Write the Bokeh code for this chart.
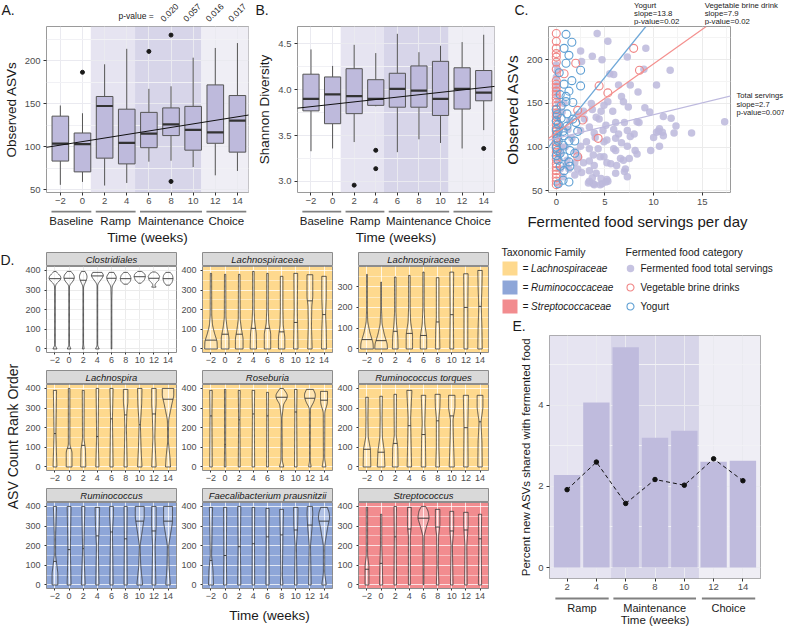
import numpy as np
from bokeh.plotting import figure
from bokeh.models import (Range1d, FixedTicker, BoxAnnotation, Slope,
                          ColumnDataSource, Spacer, NumeralTickFormatter)
from bokeh.layouts import row, column
from bokeh.transform import dodge
from bokeh.embed import file_html
from bokeh.resources import INLINE
from bokeh.core.properties import value

FONT = "Liberation Sans"
TXT = "#1A1A1A"
TICKC = "#4D4D4D"
BOX = "#BEBADC"

# ---------------- data: panels A / B ----------------
weeks = [-2, 0, 2, 4, 6, 8, 10, 12, 14]
week_labels = ["\u22122", "0", "2", "4", "6", "8", "10", "12", "14"]
phase_start = [0.75, 4.75, 10.75]
phase_end = [4.75, 10.75, 16.0]
phase_colors = ["#E6E4F1", "#D7D5E9", "#EFEEF5"]
group_names = ["Baseline", "Ramp", "Maintenance", "Choice"]
group_start = [-2.8, 1.2, 5.2, 11.2]
group_end = [0.8, 4.8, 10.8, 14.8]

asv_lo = [55.6, 59.0, 54.8, 57.8, 82.6, 83.7, 76.3, 66.7, 71.8]
asv_q1 = [83.3, 70.7, 86.7, 80.0, 98.9, 113.0, 96.0, 104.0, 93.7]
asv_med = [103.7, 103.0, 147.4, 104.4, 115.2, 126.0, 119.6, 116.7, 130.4]
asv_q3 = [135.6, 116.0, 158.5, 143.7, 140.0, 145.2, 147.0, 172.0, 159.6]
asv_hi = [148.0, 139.0, 196.0, 214.0, 167.4, 170.4, 203.7, 215.0, 220.7]
asv_out_week = [0, 6, 8, 8]
asv_out_val = [186.7, 211.0, 230.0, 59.6]
asv_fit_intercept = 106.0
asv_fit_slope = 2.06
pvalue_weeks = [8, 10, 12, 14]
pvalue_text = ["0.020", "0.057", "0.016", "0.017"]

sh_lo = [3.33, 3.36, 3.43, 3.82, 3.32, 3.46, 3.42, 3.36, 3.56]
sh_q1 = [3.77, 3.63, 3.74, 3.83, 3.81, 3.81, 3.72, 3.79, 3.88]
sh_med = [3.90, 3.95, 3.93, 3.90, 4.01, 3.99, 3.90, 4.01, 3.97]
sh_q3 = [4.17, 4.14, 4.23, 4.11, 4.18, 4.26, 4.31, 4.24, 4.21]
sh_hi = [4.44, 4.26, 4.49, 4.40, 4.61, 4.41, 4.48, 4.52, 4.60]
sh_out_week = [2, 4, 4, 14]
sh_out_val = [2.96, 3.34, 3.14, 3.36]
sh_fit_intercept = 3.842
sh_fit_slope = 0.013

# ---------------- data: panel C ----------------
total_x = [4.2, 5.3, 2.5, 3.7, 2.6, 4.7, 9.2, 7.3, 5.5, 6.4, 7.6, 10.3, 11.7, 8.4, 5.9, 9.0,
           5.3, 6.9, 3.6, 4.9, 2.8, 3.7, 2.2, 2.9, 4.1, 4.6, 5.8, 6.7, 7.4, 9.1, 9.6, 11.0,
           11.8, 8.3, 7.0, 6.1, 5.1, 4.4, 3.4, 2.5, 3.9, 4.8, 5.9, 6.4, 7.3, 8.0, 8.5, 7.6,
           6.1, 5.2, 4.0, 3.1, 4.9, 6.7, 7.3, 5.9, 4.3, 3.4, 2.5, 3.8, 4.9, 6.1, 6.6, 7.5,
           8.1, 10.0, 11.0, 12.3, 10.6, 10.5, 10.9, 17.3, 13.9, 12.1, 10.3, 10.6, 8.3, 9.7,
           4.5, 5.2, 5.6, 6.2, 6.9, 3.9, 3.4, 2.8, 2.3, 2.6, 1.9, 2.2, 4.1, 3.4, 4.6, 6.1,
           7.1, 3.4, 3.8, 5.2, 5.1, 4.7, 4.5, 3.7, 1.9, 1.3, 1.0, 0.7, 0.4, 0.2, 0.4, 0.5,
           0.2, 0.3, 0.4, 0.1, 0.0, 0.2, 0.1, 0.0, 0.1, 0.0, 0.1, 0.0, 0.2, 5.3, 3.9, 3.3,
           7.0, 0.6, 1.2, 1.6, 0.9, 1.4, 2.0, 0.8, 1.1, 7.3]
total_y = [230, 221, 210, 204, 198, 200, 213, 203, 184, 171, 171, 171, 188, 163, 183, 189,
           152, 152, 150, 148, 141, 143, 137, 132, 134, 141, 141, 158, 146, 145, 140, 135,
           133, 129, 128, 128, 125, 132, 123, 119, 116, 119, 120, 115, 119, 115, 128, 112,
           110, 108, 111, 106, 106, 105, 101, 98, 98, 98, 101, 91, 89, 96, 87, 87,
           96, 111, 113, 124, 121, 118, 117, 129, 116, 116, 117, 101, 92, 96,
           89, 82, 81, 79, 85, 79, 73, 82, 88, 71, 82, 75, 70, 84, 64, 70,
           75, 61, 58, 63, 60, 58, 57, 65, 68, 75, 79, 66, 75, 86, 93, 100,
           111, 118, 125, 133, 140, 151, 158, 165, 172, 180, 187, 194, 58, 61, 57, 59,
           72, 140, 120, 110, 100, 130, 95, 150, 85, 66]
brine_x = [0.0] * 37 + [0.8, 2.2, 2.7, 4.3, 4.4, 5.3, 7.95, 8.55, 2.2, 2.0]
brine_y = [230, 221, 213, 207, 203, 197, 189, 176, 172, 168, 164, 160, 156, 151, 147, 143,
           139, 135, 130, 126, 122, 118, 114, 110, 106, 102, 98, 94, 90, 86, 81, 77, 73,
           69, 65, 61, 57, 184, 142, 131, 110, 170, 162, 213, 188, 89, 196]
yog_x = [1.0, 1.6, 0.8, 1.3, 1.0, 2.5, 1.6, 0.8, 2.5, 1.3, 1.0, 1.0, 0.5, 1.7, 0.0, 1.1,
         0.5, 1.7, 0.2, 1.1, 0.7, 2.2, 0.8, 0.2, 1.3, 0.7, 1.4, 0.4, 0.8, 1.9, 0.2, 1.3,
         0.4, 1.4, 0.8, 0.7, 1.3, 0.2, 0.0, 0.1, 0.0, 0.1, 0.0, 0.1, 0.0, 0.1, 1.9, 2.0,
         0.4, 0.3]
yog_y = [229, 220, 213, 205, 196, 188, 176, 172, 170, 164, 158, 152, 147, 151, 143, 138,
         133, 132, 126, 124, 118, 118, 113, 107, 107, 102, 96, 93, 89, 93, 85, 83,
         78, 78, 73, 62, 60, 58, 120, 115, 100, 96, 90, 137, 130, 110, 107, 128,
         160, 185]
fit_names = ["Yogurt", "Vegetable brine drink", "Total servings"]
fit_slopes = [13.8, 7.9, 2.7]
fit_intercepts = [111.0, 116.3, 110.0]
fit_pvalues = ["0.02", "0.02", "0.007"]
fit_colors = ["#6FA8D8", "#F4908E", "#BDB9DE"]
fit_label_x = [8.2, 15.3]
fit_label_y = 159

# ---------------- data: panel D (violins) ----------------
facet_names = ["Clostridiales", "Lachnospiraceae", "Lachnospiraceae",
               "Lachnospira", "Roseburia", "Ruminococcus torques",
               "Ruminococcus", "Faecalibacterium prausnitzii", "Streptococcus"]
facet_family = ["", "Lachnospiraceae", "Lachnospiraceae", "Lachnospiraceae",
                "Lachnospiraceae", "Lachnospiraceae", "Ruminococcaceae",
                "Ruminococcaceae", "Streptococcaceae"]
family_names = ["Lachnospiraceae", "Ruminococcaceae", "Streptococcaceae"]
family_colors = ["#FED98E", "#8EA6D8", "#F28C8F"]
facet_ymax = [420, 420, 397, 420, 420, 420, 420, 420, 420]

violin_knots = [
    [  # Clostridiales
        [[0, .4], [12, .05], [320, .05], [335, .25], [350, .85], [362, 1], [375, .8], [390, .25], [395, .1]],
        [[0, .35], [12, .05], [325, .05], [340, .5], [355, .8], [370, .85], [385, .6], [395, .2]],
        [[0, .15], [20, .05], [320, .05], [340, .35], [360, .6], [375, .6], [390, .4], [395, .2]],
        [[0, .35], [12, .05], [330, .05], [350, .5], [370, .95], [382, 1], [390, .6]],
        [[0, .05], [250, .05], [320, .1], [340, .5], [360, .8], [375, .7], [390, .3]],
        [[330, .3], [345, .75], [360, .85], [375, .7], [390, .3]],
        [[335, .2], [350, .7], [368, .9], [382, .8], [395, .3]],
        [[315, .35], [325, .15], [335, .3], [350, .75], [370, .9], [385, .6], [392, .2]],
        [[325, .3], [340, .65], [358, .8], [375, .7], [390, .35]],
    ],
    [  # Lachnospiraceae
        [[0, 1], [40, .95], [80, .55], [120, .25], [170, .12], [385, .1]],
        [[0, .6], [60, .6], [110, .3], [160, .12], [380, .1]],
        [[0, .6], [55, .6], [100, .35], [150, .15], [380, .12]],
        [[0, .5], [80, .45], [140, .2], [200, .12], [395, .12]],
        [[0, .5], [80, .5], [130, .2], [200, .12], [385, .12]],
        [[0, .5], [60, .5], [120, .25], [200, .2], [370, .2]],
        [[0, .35], [100, .3], [200, .25], [385, .3]],
        [[0, .35], [120, .25], [220, .3], [260, .45], [378, .45]],
        [[0, .4], [100, .35], [175, .25], [260, .35], [370, .35]],
    ],
    [  # Lachnospiraceae (second)
        [[0, 1], [30, .95], [80, .45], [130, .12], [200, .05], [359, .05]],
        [[0, 1], [25, .95], [70, .5], [120, .15], [200, .05], [322, .05]],
        [[0, .45], [60, .4], [120, .2], [180, .1], [346, .12]],
        [[0, .5], [70, .5], [130, .2], [200, .12], [354, .12]],
        [[0, .5], [60, .5], [120, .2], [200, .1], [370, .1]],
        [[0, .35], [100, .3], [150, .2], [250, .2], [343, .2]],
        [[0, .3], [170, .25], [370, .3]],
        [[0, .3], [200, .3], [362, .35]],
        [[0, .35], [100, .3], [200, .2], [300, .3], [378, .35]],
    ],
    [  # Lachnospira
        [[0, .3], [170, .15], [390, .25]],
        [[0, .45], [80, .45], [110, .12], [200, .12], [400, .12]],
        [[0, .4], [90, .35], [140, .12], [390, .15]],
        [[0, .25], [155, .12], [400, .2]],
        [[0, .25], [245, .15], [400, .25]],
        [[0, .25], [200, .12], [280, .2], [330, .35], [395, .35]],
        [[0, .35], [100, .2], [215, .1], [320, .3], [400, .35]],
        [[0, .35], [150, .15], [270, .25], [320, .35], [400, .35]],
        [[0, .4], [50, .3], [130, .05], [240, .1], [320, .6], [360, .9], [400, .9]],
    ],
    [  # Roseburia
        [[0, .2], [260, .15], [390, .2]],
        [[0, .12], [115, .08], [395, .1]],
        [[0, .15], [240, .1], [390, .15]],
        [[0, .2], [270, .15], [390, .2]],
        [[0, .15], [260, .12], [380, .15]],
        [[0, .35], [30, .1], [250, .05], [320, .3], [345, .8], [365, .95], [385, .6], [400, .2]],
        [[0, .2], [280, .15], [395, .2]],
        [[0, .2], [30, .05], [300, .08], [330, .6], [355, .85], [375, .85], [395, .5]],
        [[0, .3], [40, .1], [280, .12], [320, .5], [340, .55], [385, .55]],
    ],
    [  # Ruminococcus torques
        [[0, .6], [90, .55], [150, .2], [250, .15], [355, .2]],
        [[0, .6], [80, .5], [150, .2], [250, .15], [360, .2]],
        [[0, .45], [100, .4], [160, .15], [370, .2]],
        [[0, .35], [150, .25], [250, .2], [390, .4]],
        [[0, .35], [150, .3], [220, .2], [365, .35]],
        [[0, .3], [100, .2], [250, .2], [300, .35], [370, .4]],
        [[0, .4], [150, .25], [240, .2], [300, .5], [365, .5]],
        [[0, .35], [200, .3], [365, .4]],
        [[0, .35], [130, .3], [230, .15], [300, .45], [365, .45]],
    ],
    [  # Ruminococcus
        [[0, .45], [60, .45], [150, .1], [250, .1], [400, .25]],
        [[0, .3], [180, .2], [400, .3]],
        [[0, .3], [185, .1], [400, .25]],
        [[0, .25], [200, .15], [300, .3], [395, .35]],
        [[0, .25], [150, .2], [270, .15], [350, .3], [400, .3]],
        [[0, .25], [235, .2], [400, .25]],
        [[0, .45], [100, .15], [200, .05], [300, .5], [340, .7], [400, .7]],
        [[0, .3], [200, .2], [300, .35], [400, .35]],
        [[0, .35], [100, .15], [200, .1], [320, .7], [400, .7]],
    ],
    [  # Faecalibacterium prausnitzii
        [[0, .4], [80, .3], [150, .1], [395, .25]],
        [[0, .25], [150, .2], [395, .25]],
        [[0, .25], [195, .18], [400, .25]],
        [[0, .2], [210, .18], [395, .2]],
        [[0, .25], [245, .2], [390, .25]],
        [[0, .2], [50, .12], [250, .2], [385, .3]],
        [[0, .2], [200, .1], [300, .3], [395, .35]],
        [[0, .2], [200, .1], [300, .35], [360, .45], [400, .4]],
        [[0, .35], [60, .1], [200, .1], [300, .6], [340, .9], [370, .8], [395, .5]],
    ],
    [  # Streptococcus
        [[0, .3], [100, .3], [150, .1], [395, .1]],
        [[0, .25], [100, .2], [200, .1], [360, .1]],
        [[0, .2], [245, .15], [400, .2]],
        [[0, .15], [250, .15], [300, .3], [395, .3]],
        [[0, .05], [250, .1], [300, .5], [340, .9], [380, .7], [400, .3]],
        [[0, .2], [100, .1], [250, .15], [300, .35], [385, .35]],
        [[0, .2], [200, .1], [280, .3], [375, .3]],
        [[0, .2], [200, .15], [300, .35], [370, .35]],
        [[0, .25], [200, .2], [360, .25]],
    ],
]
violin_medians = [
    [358, 360, 350, 372, 360, 358, 368, 360, 358],
    [45, 75, 75, 105, 105, 87, 135, 245, 175],
    [45, 40, 85, 75, 65, 130, 165, 200, 205],
    [170, 95, 110, 155, 245, 265, 215, 270, 345],
    [260, 115, 240, 270, 260, 355, 280, 350, 340],
    [90, 75, 120, 210, 165, 235, 260, 200, 230],
    [120, 180, 185, 250, 270, 235, 325, 275, 325],
    [125, 150, 195, 210, 245, 255, 280, 305, 325],
    [80, 110, 245, 285, 340, 295, 275, 280, 235],
]

# ---------------- data: panel E ----------------
e_weeks = ["2", "4", "6", "8", "10", "12", "14"]
e_pos = [1, 2, 3, 4, 5, 6, 7]
e_pct_bar = [2.28, 4.07, 5.43, 3.20, 3.37, 2.61, 2.63]
e_pct_line = [1.92, 2.60, 1.58, 2.17, 2.03, 2.68, 2.14]
e_phase_start = [0.4, 2.5, 5.5]
e_phase_end = [2.5, 5.5, 7.6]
e_phase_colors = ["#E6E4F1", "#D7D5E9", "#EFEEF5"]
e_group_names = ["Ramp", "Maintenance", "Choice"]
e_group_start = [0.6, 2.58, 5.6]
e_group_end = [2.42, 5.4, 7.42]

GEO = {}


# ---------------- helpers ----------------
def new_fig(w, h, xr, yr, bl, br, bt, bb, axes=True):
    kw = {} if axes else dict(x_axis_type=None, y_axis_type=None)
    p = figure(width=w, height=h, x_range=xr, y_range=yr, output_backend="svg",
               toolbar_location=None, title=None, **kw)
    p.min_border_left = bl
    p.min_border_right = br
    p.min_border_top = bt
    p.min_border_bottom = bb
    p.border_fill_color = "white"
    p.background_fill_color = "white"
    p.outline_line_color = None
    GEO[id(p)] = dict(w=w, h=h, bl=bl, br=br, bt=bt, bb=bb,
                      xr=(xr.start, xr.end), yr=(yr.start, yr.end))
    return p


def text_fig(w, h):
    """free canvas measured in pixels from its top-left corner"""
    f = new_fig(w, h, Range1d(0, w), Range1d(h, 0), 0, 0, 0, 0, axes=False)
    f.frame_align = False
    return f


def to_px(p, x=None, y=None):
    g = GEO[id(p)]
    fw = g["w"] - g["bl"] - g["br"]
    fh = g["h"] - g["bt"] - g["bb"]
    if x is not None:
        return g["bl"] + (x - g["xr"][0]) / (g["xr"][1] - g["xr"][0]) * fw
    return g["bt"] + (g["yr"][1] - y) / (g["yr"][1] - g["yr"][0]) * fh


def put_text(f, x, y, texts, size, align="left", angle=0.0, style="normal"):
    f.text(x=x, y=y, text=texts, text_font=value(FONT), text_font_size=size,
           text_align=align, text_baseline="middle", angle=angle,
           text_font_style=style, text_color=TXT)


def style_axes(p, tick_size="9.5px", label_size="13.5px", tick_out=3):
    for ax in p.xaxis + p.yaxis:
        ax.axis_line_color = None
        ax.major_tick_line_color = "#333333"
        ax.major_tick_out = tick_out
        ax.major_tick_in = 0
        ax.minor_tick_line_color = None
        ax.major_label_text_font = FONT
        ax.major_label_text_font_size = tick_size
        ax.major_label_text_color = TICKC
        ax.major_label_standoff = 2
        ax.axis_label_text_font = FONT
        ax.axis_label_text_font_size = label_size
        ax.axis_label_text_font_style = "normal"
        ax.axis_label_text_color = TXT
        ax.axis_label_standoff = 3


def add_bands(p, starts, ends, colors):
    for s, e, c in zip(starts, ends, colors):
        p.add_layout(BoxAnnotation(left=s, right=e, fill_color=c, fill_alpha=1.0,
                                   line_color=None, level="image"))


def box_panel(p, lo, q1, med, q3, hi, ow, ov):
    src = ColumnDataSource(dict(w=weeks, lo=lo, q1=q1, med=med, q3=q3, hi=hi))
    p.segment(x0="w", y0="q3", x1="w", y1="hi", source=src, line_color="#555555", line_width=1)
    p.segment(x0="w", y0="lo", x1="w", y1="q1", source=src, line_color="#555555", line_width=1)
    p.vbar(x="w", width=1.5, bottom="q1", top="q3", source=src, fill_color=BOX,
           line_color="#555555", line_width=1)
    p.segment(x0=dodge("w", -0.75), y0="med", x1=dodge("w", 0.75), y1="med", source=src,
              line_color="#333333", line_width=2.2)
    p.scatter(ow, ov, size=4, color="#1A1A1A")


def time_panel(w, ylab, yr, yticks, yminor, lo, q1, med, q3, hi, ow, ov, b0, b1, fmt=None):
    xr = Range1d(-3.25, 15.0)
    p = new_fig(w, 185, xr, yr, 42, 6, 1, 18)
    p.outline_line_color = "#9A9A9A"
    add_bands(p, phase_start, phase_end, phase_colors)
    box_panel(p, lo, q1, med, q3, hi, ow, ov)
    p.add_layout(Slope(gradient=b1, y_intercept=b0, line_color="#111111", line_width=1))
    p.xaxis.ticker = FixedTicker(ticks=weeks)
    p.xaxis.major_label_overrides = {w_: l_ for w_, l_ in zip(weeks, week_labels)}
    p.yaxis.ticker = FixedTicker(ticks=yticks, minor_ticks=yminor)
    if fmt:
        p.yaxis.formatter = NumeralTickFormatter(format=fmt)
    p.yaxis.axis_label = ylab
    p.grid.grid_line_color = "#EAEAF0"
    p.ygrid.minor_grid_line_color = "#F1F1F5"
    style_axes(p)
    # group brackets below the axis
    b = new_fig(w, 36, xr, Range1d(36, 0), 42, 6, 0, 0, axes=False)
    b.segment(x0=group_start, y0=[1] * 4, x1=group_end, y1=[1] * 4,
              line_color="#808080", line_width=2)
    put_text(b, [(s + e) / 2 for s, e in zip(group_start, group_end)], [10] * 4,
             group_names, "11.5px", align="center")
    put_text(b, [(xr.start + xr.end) / 2], [27], ["Time (weeks)"], "13.5px", align="center")
    return p, b


# ---------------- panel A ----------------
pA, bA = time_panel(254, "Observed ASVs", Range1d(46.7, 240), [50, 100, 150, 200],
                    [75, 125, 175, 225], asv_lo, asv_q1, asv_med, asv_q3, asv_hi,
                    asv_out_week, asv_out_val, asv_fit_intercept, asv_fit_slope)
hA = text_fig(254, 25)
put_text(hA, [1], [9], ["A."], "14px")
put_text(hA, [to_px(pA, x=6.6)], [15], ["p-value ="], "8.5px", align="right")
put_text(hA, [to_px(pA, x=w_) for w_ in pvalue_weeks], [12] * len(pvalue_weeks),
         pvalue_text, "8.5px", align="center", angle=np.pi / 4)

# ---------------- panel B ----------------
pB, bB = time_panel(246, "Shannon Diversity", Range1d(2.88, 4.69), [3.0, 3.5, 4.0, 4.5],
                    [3.25, 3.75, 4.25], sh_lo, sh_q1, sh_med, sh_q3, sh_hi,
                    sh_out_week, sh_out_val, sh_fit_intercept, sh_fit_slope, fmt="0.0")
hB = text_fig(246, 25)
put_text(hB, [1], [9], ["B."], "14px")

# ---------------- panel C ----------------
pC = new_fig(234, 185, Range1d(-0.8, 17.9), Range1d(48, 238), 44, 4, 1, 18)
pC.outline_line_color = "#9A9A9A"
pC.scatter(total_x, total_y, size=7.5, fill_color="#BCB8DC", fill_alpha=0.85, line_color=None)
pC.scatter(brine_x, brine_y, size=8, fill_color=None, line_color="#F08585", line_width=1.1)
pC.scatter(yog_x, yog_y, size=8, fill_color=None, line_color="#5E9FD3", line_width=1.1)
for s_, i_, c_ in zip(fit_slopes, fit_intercepts, fit_colors):
    pC.add_layout(Slope(gradient=s_, y_intercept=i_, line_color=c_, line_width=1.2))
pC.xaxis.ticker = FixedTicker(ticks=[0, 5, 10, 15], minor_ticks=[2.5, 7.5, 12.5, 17.5])
pC.yaxis.ticker = FixedTicker(ticks=[50, 100, 150, 200], minor_ticks=[75, 125, 175, 225])
pC.yaxis.axis_label = "Observed ASVs"
pC.grid.grid_line_color = "#EBEBEB"
pC.grid.minor_grid_line_color = "#F4F4F4"
style_axes(pC, label_size="15.5px")
hC = text_fig(284, 25)
put_text(hC, [14], [9], ["C."], "14px")
for k in range(2):
    lines = [fit_names[k], "slope=%s" % fit_slopes[k], "p-value=%s" % fit_pvalues[k]]
    put_text(hC, [to_px(pC, x=fit_label_x[k])] * 3, [5, 13, 21], lines, "7.8px")
sC = text_fig(50, 185)
y0 = to_px(pC, y=fit_label_y)
put_text(sC, [2] * 3, [y0, y0 + 8.5, y0 + 17],
         [fit_names[2], "slope=%s" % fit_slopes[2], "p-value=%s" % fit_pvalues[2]], "7.6px")
fC = text_fig(284, 36)
put_text(fC, [to_px(pC, x=8.55)], [11], ["Fermented food servings per day"], "15px",
         align="center")
colC = column(hC, row(pC, sC), fC)


# ---------------- panel D ----------------
def violin_shape(pos, knots):
    r = np.array([k[0] for k in knots], float)
    w = np.array([k[1] for k in knots], float)
    ys = np.linspace(r[0], r[-1], 90)
    ws = np.interp(ys, r, w)
    kk = 5
    ws = np.convolve(np.pad(ws, kk // 2, mode="edge"), np.ones(kk) / kk, mode="valid")
    hw = ws * 0.45
    xs = np.concatenate([pos - hw, (pos + hw)[::-1]])
    yy = np.concatenate([ys, ys[::-1]])
    return list(xs), list(yy), ys, hw


def facet_cell(i):
    fam = facet_family[i]
    bg = family_colors[family_names.index(fam)] if fam in family_names else "white"
    strip = new_fig(156, 14, Range1d(0, 1), Range1d(0, 1), 24, 2, 0, 0, axes=False)
    strip.background_fill_color = "#D9D9D9"
    strip.outline_line_color = "#8C8C8C"
    put_text(strip, [0.5], [0.5], [facet_names[i]], "9.5px", align="center", style="italic")
    ymax = facet_ymax[i]
    p = new_fig(156, 104, Range1d(0.4, 9.6), Range1d(-0.043 * ymax, ymax), 24, 2, 0, 18)
    p.background_fill_color = bg
    p.outline_line_color = "#8C8C8C"
    yt = [0, 100, 200, 300, 400] if ymax > 410 else [0, 100, 200, 300]
    p.yaxis.ticker = FixedTicker(ticks=yt, minor_ticks=[50, 150, 250, 350])
    p.xaxis.ticker = FixedTicker(ticks=list(range(1, 10)))
    p.xaxis.major_label_overrides = {k + 1: l_ for k, l_ in enumerate(week_labels)}
    if bg == "white":
        p.grid.grid_line_color = "#EBEBEB"
        p.ygrid.minor_grid_line_color = "#F4F4F4"
    else:
        p.grid.grid_line_color = "white"
        p.grid.grid_line_alpha = 0.75
        p.ygrid.minor_grid_line_color = "white"
        p.ygrid.minor_grid_line_alpha = 0.45
    xs_l, ys_l, mx0, mx1, my = [], [], [], [], []
    for j, knots in enumerate(violin_knots[i]):
        pos = j + 1
        xs, yy, ys, hw = violin_shape(pos, knots)
        xs_l.append(xs)
        ys_l.append(yy)
        m = violin_medians[i][j]
        hm = float(np.interp(m, ys, hw))
        mx0.append(pos - hm)
        mx1.append(pos + hm)
        my.append(m)
    p.patches(xs_l, ys_l, fill_color="white", fill_alpha=0.3, line_color="#333333",
              line_width=0.8)
    p.segment(x0=mx0, y0=my, x1=mx1, y1=my, line_color="#333333", line_width=0.9)
    style_axes(p, tick_size="9px", tick_out=2)
    return column(strip, p)


cells = [facet_cell(i) for i in range(9)]
d_title = text_fig(22, 378)
put_text(d_title, [0], [13], ["D."], "14px")
put_text(d_title, [12], [190], ["ASV Count Rank Order"], "14px", align="center", angle=np.pi / 2)
d_time = text_fig(468, 18)
put_text(d_time, [247], [9], ["Time (weeks)"], "13.5px", align="center")
d_grid = column(Spacer(width=468, height=6),
                row(cells[0], cells[1], cells[2]),
                row(cells[3], cells[4], cells[5]),
                row(cells[6], cells[7], cells[8]),
                d_time)
d_block = row(d_title, d_grid, Spacer(width=7, height=378))

# ---------------- legends (+ panel letter E) ----------------
leg = text_fig(287, 88)
leg_y = [22, 41, 60]
put_text(leg, [4], [5], ["Taxonomic Family"], "10.5px")
leg.rect(x=[12.5] * 3, y=leg_y, width=15, height=14, fill_color=family_colors, line_color=None)
put_text(leg, [25] * 3, leg_y, ["= " + f for f in family_names], "10px", style="italic")
put_text(leg, [128], [5], ["Fermented food category"], "10.5px")
leg.scatter(x=[133], y=[leg_y[0]], size=7.5, fill_color="#BCB8DC", fill_alpha=0.85, line_color=None)
leg.scatter(x=[133], y=[leg_y[1]], size=7, fill_color=None, line_color="#F08585", line_width=1.1)
leg.scatter(x=[133], y=[leg_y[2]], size=7, fill_color=None, line_color="#5E9FD3", line_width=1.1)
put_text(leg, [143] * 3, leg_y, ["Fermented food total servings", "Vegetable brine drinks", "Yogurt"],
         "10px")
put_text(leg, [15], [79], ["E."], "14px")

# ---------------- panel E ----------------
exr = Range1d(0.4, 7.6)
pE = new_fig(287, 262, exr, Range1d(-0.27, 5.72), 52, 24, 1, 18)
pE.outline_line_color = "#9A9A9A"
add_bands(pE, e_phase_start, e_phase_end, e_phase_colors)
pE.vbar(x=e_pos, top=e_pct_bar, width=0.9, fill_color="#BFBBDD", line_color=None)
pE.line(e_pos, e_pct_line, line_dash="4 3", line_color="#111111", line_width=1)
pE.scatter(e_pos, e_pct_line, size=4.5, color="#111111")
pE.xaxis.ticker = FixedTicker(ticks=e_pos)
pE.xaxis.major_label_overrides = {k: w_ for k, w_ in zip(e_pos, e_weeks)}
pE.yaxis.ticker = FixedTicker(ticks=[0, 2, 4], minor_ticks=[1, 3, 5])
pE.yaxis.axis_label = "Percent new ASVs shared with fermented food"
pE.grid.grid_line_color = "#EAEAF0"
pE.ygrid.minor_grid_line_color = "#F1F1F5"
style_axes(pE, label_size="11.5px")
bE = new_fig(287, 30, exr, Range1d(30, 0), 52, 24, 0, 0, axes=False)
bE.segment(x0=e_group_start, y0=[2] * 3, x1=e_group_end, y1=[2] * 3,
           line_color="#808080", line_width=2)
put_text(bE, [(s + e) / 2 for s, e in zip(e_group_start, e_group_end)], [11] * 3,
         e_group_names, "11px", align="center")
put_text(bE, [4.0], [23], ["Time (weeks)"], "11.5px", align="center")
right_col = column(leg, pE, bE)

layout = column(row(column(hA, pA, bA), column(hB, pB, bB), colC),
                row(d_block, right_col))
open("out.html", "w").write(file_html(layout, INLINE))
